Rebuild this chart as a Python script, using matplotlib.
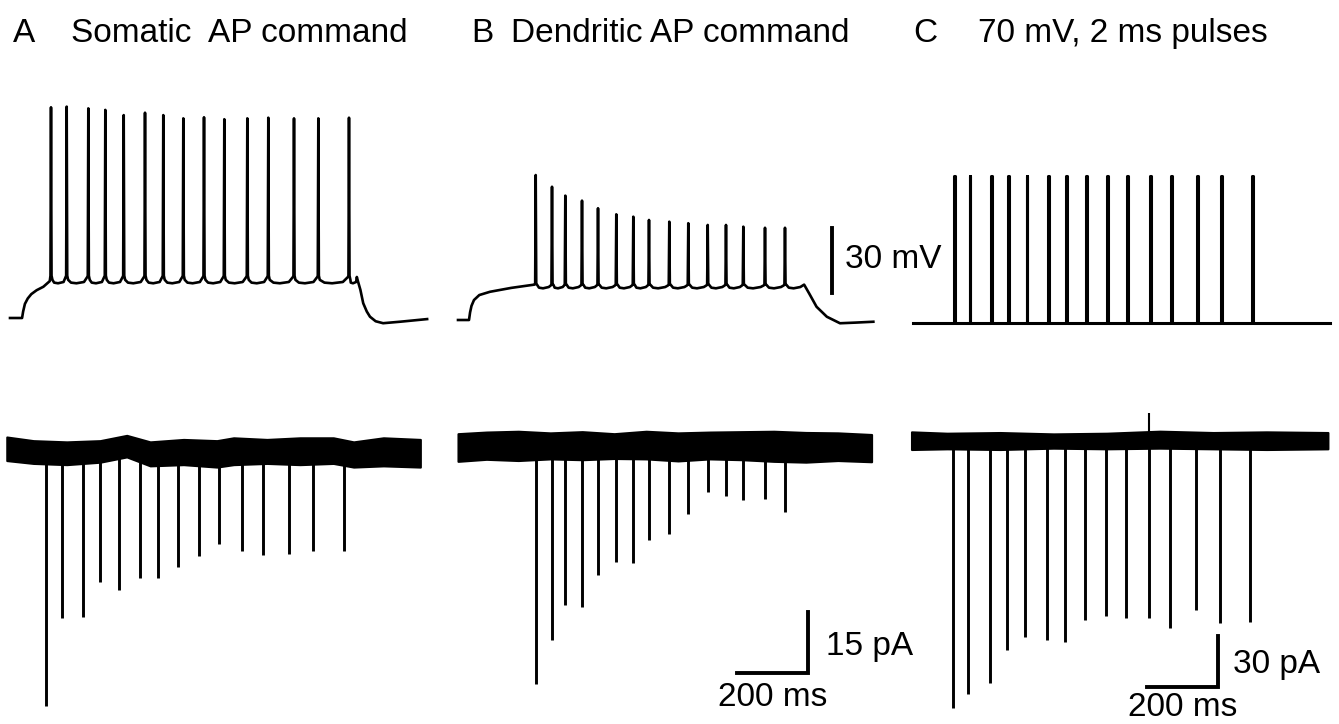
import numpy as np
import matplotlib
matplotlib.use("Agg")
import matplotlib.pyplot as plt

plt.rcParams['font.family'] = ['Liberation Sans', 'DejaVu Sans']

W, H = 1339, 724
PX_MS = 0.355          # pixels per ms (200 ms bar ~ 71 px)
PX_MV = 2.17           # pixels per mV (30 mV bar ~ 65 px)
PX_PA_AB = 4.07        # pixels per pA in A, B (15 pA bar ~ 61 px)
PX_PA_C = 1.70         # pixels per pA in C (30 pA bar ~ 51 px)
TRACE_MS = 1175

# ---- data ----
# A: somatic AP command (mV above holding level)
a_spike_t = [115.5, 159.7, 220.6, 268.5, 320.3, 380.3, 431.8, 488.2, 546.5, 603.7,
             668.5, 727.6, 800.0, 868.5, 954.9]
a_spike_v = [97.1, 97.4, 96.6, 95.9, 93.5, 94.6, 93.5, 92.0, 92.5, 91.6,
             92.0, 92.3, 92.0, 92.0, 92.3]
a_pre_t = [0, 34, 37, 42, 50, 60, 75, 94, 112]
a_pre_v = [0, 0, 3.0, 6.5, 9.0, 11.0, 12.8, 14.4, 17.0]
a_post_t = [980, 987, 995, 1005, 1014, 1030, 1051, 1100, 1175]
a_post_v = [17.0, 13.0, 6.8, 3.0, 0.6, -1.5, -2.4, -1.7, -0.5]
a_base, a_trough = 19.5, 16.0
# A: evoked currents (pA, downward) and baseline noise envelope
a_cur_amp = [62.9, 41.3, 41.0, 32.4, 34.4, 31.5, 31.4, 28.8, 26.0, 23.1,
             24.7, 25.9, 25.6, 24.8, 24.8]
a_env_t = [5, 80, 174, 268, 343, 409, 503, 597, 644, 738, 831, 925, 982, 1066, 1170]
a_env_hi = [3.2, 2.3, 2.0, 2.3, 3.6, 2.0, 2.6, 2.3, 3.0, 2.6, 3.0, 3.0, 2.0, 3.0, 2.6]
a_env_lo = [-2.6, -3.3, -3.6, -3.0, -1.7, -3.9, -3.6, -4.2, -3.6, -3.3, -3.6, -3.3, -4.2, -3.9, -4.2]

# B: dendritic AP command
b_spike_t = [218.9, 264.8, 302.3, 349.3, 394.4, 445.9, 493.8, 538.0, 595.2, 648.7,
             703.4, 754.9, 803.7, 864.8, 921.1]
b_spike_v = [66.8, 61.4, 57.3, 55.0, 51.5, 48.7, 47.6, 46.1, 45.3, 44.6,
             43.8, 43.8, 43.0, 42.5, 42.5]
b_pre_t = [0, 31, 34, 38, 45, 60, 90, 150, 215]
b_pre_v = [0, 0, 3.5, 6.5, 9.2, 11.5, 13.0, 14.8, 16.3]
b_post_t = [975, 990, 1010, 1039, 1076, 1120, 1170]
b_post_v = [16.3, 12.0, 6.1, 1.5, -1.5, -1.2, -0.8]
b_base, b_trough = 16.6, 14.6
b_cur_amp = [58.3, 47.5, 38.9, 39.5, 31.5, 28.3, 28.6, 22.9, 21.5, 16.5,
             11.1, 12.1, 13.1, 12.9, 16.0]
b_env_t = [0, 80, 170, 260, 350, 440, 530, 620, 710, 800, 890, 980, 1070, 1165]
b_env_hi = [3.2, 3.6, 3.8, 3.4, 3.7, 3.2, 3.8, 3.4, 3.6, 3.7, 3.8, 3.5, 3.4, 3.0]
b_env_lo = [-3.6, -3.1, -3.4, -3.0, -3.2, -2.9, -3.0, -3.5, -3.0, -3.2, -3.6, -3.8, -3.4, -3.7]

# C: 70 mV, 2 ms pulses (same timing as A)
c_pulse_t = a_spike_t
c_pulse_v = 68.0
c_pulse_ms = 2.0
c_cur_amp = [157.9, 149.6, 143.2, 123.5, 116.1, 117.6, 118.6, 105.9, 103.4, 104.5,
             104.5, 110.8, 100.0, 107.5, 106.9]
c_up_t, c_up_amp = 668.7, 16.0
c_env_t = [0, 100, 250, 400, 550, 700, 850, 1000, 1173]
c_env_hi = [4.8, 4.0, 4.4, 3.6, 4.0, 5.2, 4.4, 4.8, 4.4]
c_env_lo = [-5.6, -5.2, -5.6, -4.8, -5.2, -4.8, -5.2, -5.6, -5.2]

LW = 1.9


def overlay(fig, x0, y0, sy):
    # full-figure axes: data (0, 0) sits at pixel (x0, y0), y grows upward
    ax = fig.add_axes([0, 0, 1, 1])
    ax.set_xlim(-x0 / PX_MS, (W - x0) / PX_MS)
    ax.set_ylim((y0 - H) / sy, y0 / sy)
    ax.axis('off')
    ax.patch.set_alpha(0)
    return ax


def ap_trace(pre_t, pre_v, sp_t, sp_v, post_t, post_v, base, trough):
    t, v = list(pre_t), list(pre_v)
    for i, (ts, pk) in enumerate(zip(sp_t, sp_v)):
        t += [ts - 1.5, ts, ts + 1.5]
        v += [base, pk, base]
        nxt = sp_t[i + 1] if i + 1 < len(sp_t) else post_t[0]
        gap = nxt - ts
        t += [ts + 4, ts + 0.2 * gap, ts + 0.45 * gap, ts + 0.8 * gap, nxt - 3]
        v += [trough + 1.6, trough + 0.3, trough, trough + 0.6, base - 0.6]
    t += list(post_t)
    v += list(post_v)
    return t, v


def current_trace(ax, env_t, hi, lo, sp_t, amp):
    ax.fill_between(env_t, lo, hi, color='black', lw=1.5, edgecolor='black')
    ax.vlines(sp_t, 0, -np.array(amp), color='black', lw=2.1)


fig = plt.figure(figsize=(W / 100, H / 100), dpi=100)

# ---- A ----
ax = overlay(fig, 10, 318, PX_MV)
t, v = ap_trace(a_pre_t, a_pre_v, a_spike_t, a_spike_v, a_post_t, a_post_v, a_base, a_trough)
ax.plot(t, v, color='black', lw=LW, solid_joinstyle='round')
ax = overlay(fig, 5, 450, PX_PA_AB)
current_trace(ax, a_env_t, a_env_hi, a_env_lo, a_spike_t, a_cur_amp)

# ---- B ----
ax = overlay(fig, 458, 320, PX_MV)
t, v = ap_trace(b_pre_t, b_pre_v, b_spike_t, b_spike_v, b_post_t, b_post_v, b_base, b_trough)
ax.plot(t, v, color='black', lw=LW, solid_joinstyle='round')
ax.plot([1054, 1054], [12.3, 42.3], color='black', lw=2.8)   # 30 mV
ax = overlay(fig, 458, 446.7, PX_PA_AB)
current_trace(ax, b_env_t, b_env_hi, b_env_lo, b_spike_t, b_cur_amp)
ax.plot([786.8, 986.8, 986.8], [-55.6, -55.6, -40.6], color='black', lw=2.8,
        solid_joinstyle='miter')

# ---- C ----
ax = overlay(fig, 913.3, 323.3, PX_MV)
t, v = [0], [0]
for ts in c_pulse_t:
    t += [ts - c_pulse_ms / 2, ts - c_pulse_ms / 2, ts + c_pulse_ms / 2, ts + c_pulse_ms / 2]
    v += [0, c_pulse_v, c_pulse_v, 0]
t.append(TRACE_MS)
v.append(0)
ax.plot(t, v, color='black', lw=2.2)
ax = overlay(fig, 911.5, 440, PX_PA_C)
current_trace(ax, c_env_t, c_env_hi, c_env_lo, c_pulse_t, c_cur_amp)
ax.vlines([c_up_t], 0, c_up_amp, color='black', lw=1.5)
ax.plot([662, 862, 862], [-145.3, -145.3, -115.3], color='black', lw=2.8,
        solid_joinstyle='miter')

# ---- text ----
FS = 24


def put(x, y, s, ha='left'):
    fig.text(x / W, 1 - y / H, s, fontsize=FS, ha=ha, va='baseline')


put(13, 42, 'A')
put(71, 42, 'Somatic  AP command')
put(471, 42, 'B')
put(511, 42, 'Dendritic AP command')
put(913, 42, 'C')
put(978, 42, '70 mV, 2 ms pulses')
put(845, 268, '30 mV')
put(826, 655, '15 pA')
put(773, 706, '200 ms', ha='center')
put(1233, 673, '30 pA')
put(1183, 716, '200 ms', ha='center')

fig.savefig('out.png', dpi=100)
